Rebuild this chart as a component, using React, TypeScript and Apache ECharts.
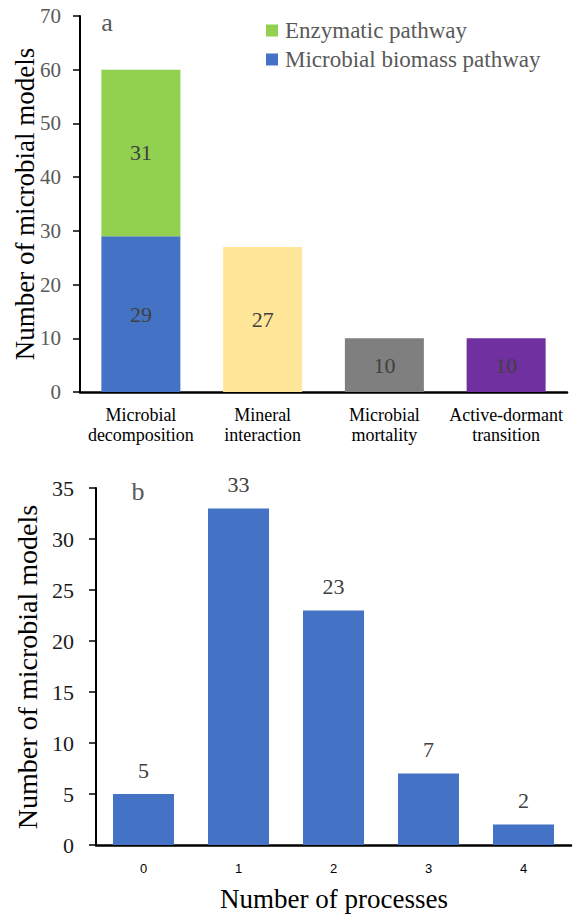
import React, { useEffect, useRef } from "react";
import * as echarts from "echarts";

const panelACategories = [
  "Microbial\ndecomposition",
  "Mineral\ninteraction",
  "Microbial\nmortality",
  "Active-dormant\ntransition",
];
const microbialBiomass = [29, null, null, null];
const enzymatic = [31, null, null, null];
const otherProcesses = [null, 27, 10, 10];
const otherColors = ["#4472C4", "#FFE699", "#7F7F7F", "#7030A0"];
const panelAYTicks = { min: 0, max: 70, interval: 10 };

const panelBCategories = ["0", "1", "2", "3", "4"];
const panelBCounts = [5, 33, 23, 7, 2];
const panelBYTicks = { min: 0, max: 35, interval: 5 };

const SERIF = "Liberation Serif";

export default function App() {
  const ref = useRef<HTMLDivElement>(null);
  useEffect(() => {
    if (!ref.current) return;
    const chart = echarts.init(ref.current, undefined, { renderer: "svg" });
    const labelStyle = {
      color: "#404040",
      fontSize: 22,
      fontFamily: SERIF,
    };
    chart.setOption({
      animation: false,
      backgroundColor: "#ffffff",
      textStyle: { fontFamily: SERIF },
      legend: {
        data: ["Enzymatic pathway", "Microbial biomass pathway"],
        orient: "vertical",
        left: 261,
        top: 14,
        itemWidth: 12,
        itemHeight: 12,
        itemGap: 6,
        icon: "rect",
        textStyle: {
          color: "#595959",
          fontSize: 23,
          fontFamily: SERIF,
          padding: [0, 0, 0, 2],
        },
      },
      grid: [
        { left: 80, top: 16, width: 487, height: 376 },
        { left: 96, top: 488, width: 475, height: 357 },
      ],
      xAxis: [
        {
          type: "category",
          gridIndex: 0,
          data: panelACategories,
          axisLine: { lineStyle: { color: "#000", width: 2.5 } },
          axisTick: { show: false },
          axisLabel: {
            color: "#000",
            fontSize: 18,
            lineHeight: 20,
            margin: 13,
            fontFamily: SERIF,
            interval: 0,
          },
        },
        {
          type: "category",
          gridIndex: 1,
          data: panelBCategories,
          axisLine: { lineStyle: { color: "#000", width: 2.5 } },
          axisTick: { show: false },
          axisLabel: {
            color: "#000",
            fontSize: 13,
            margin: 17,
            fontFamily: "Liberation Sans",
          },
        },
      ],
      yAxis: [
        {
          type: "value",
          gridIndex: 0,
          ...panelAYTicks,
          splitLine: { show: false },
          axisLine: { show: true, lineStyle: { color: "#000", width: 2 } },
          axisTick: { show: true, length: 7, lineStyle: { color: "#000", width: 1.5 } },
          axisLabel: { color: "#595959", fontSize: 21, margin: 19, fontFamily: SERIF },
        },
        {
          type: "value",
          gridIndex: 1,
          ...panelBYTicks,
          splitLine: { show: false },
          axisLine: { show: true, lineStyle: { color: "#000", width: 2 } },
          axisTick: { show: true, length: 7, lineStyle: { color: "#000", width: 1.5 } },
          axisLabel: { color: "#1a1a1a", fontSize: 22, margin: 22, fontFamily: SERIF },
        },
      ],
      series: [
        {
          name: "Microbial biomass pathway",
          type: "bar",
          stack: "a",
          xAxisIndex: 0,
          yAxisIndex: 0,
          barWidth: 79,
          data: microbialBiomass,
          itemStyle: { color: "#4472C4" },
          label: { show: true, position: "inside", ...labelStyle },
        },
        {
          name: "Enzymatic pathway",
          type: "bar",
          stack: "a",
          xAxisIndex: 0,
          yAxisIndex: 0,
          barWidth: 79,
          data: enzymatic,
          itemStyle: { color: "#92D050" },
          label: { show: true, position: "inside", ...labelStyle },
        },
        {
          name: "Other processes",
          type: "bar",
          stack: "a",
          xAxisIndex: 0,
          yAxisIndex: 0,
          barWidth: 79,
          data: otherProcesses.map((v, i) => ({
            value: v,
            itemStyle: { color: otherColors[i] },
          })),
          label: { show: true, position: "inside", ...labelStyle },
        },
        {
          name: "Number of models",
          type: "bar",
          xAxisIndex: 1,
          yAxisIndex: 1,
          barWidth: 61,
          data: panelBCounts,
          itemStyle: { color: "#4472C4" },
          label: { show: true, position: "top", distance: 13, ...labelStyle },
        },
      ],
      graphic: [
        {
          type: "text",
          x: 25,
          y: 204,
          rotation: Math.PI / 2,
          style: {
            text: "Number of microbial models",
            fill: "#000",
            fontSize: 27,
            fontFamily: SERIF,
            textAlign: "center",
            textVerticalAlign: "middle",
          },
        },
        {
          type: "text",
          x: 27,
          y: 667,
          rotation: Math.PI / 2,
          style: {
            text: "Number of microbial models",
            fill: "#000",
            fontSize: 28,
            fontFamily: SERIF,
            textAlign: "center",
            textVerticalAlign: "middle",
          },
        },
        {
          type: "text",
          x: 334,
          y: 899,
          style: {
            text: "Number of processes",
            fill: "#000",
            fontSize: 27,
            fontFamily: SERIF,
            textAlign: "center",
            textVerticalAlign: "middle",
          },
        },
        {
          type: "text",
          x: 107,
          y: 22,
          style: {
            text: "a",
            fill: "#595959",
            fontSize: 26,
            fontFamily: SERIF,
            textAlign: "center",
            textVerticalAlign: "middle",
          },
        },
        {
          type: "text",
          x: 138,
          y: 491,
          style: {
            text: "b",
            fill: "#595959",
            fontSize: 26,
            fontFamily: SERIF,
            textAlign: "center",
            textVerticalAlign: "middle",
          },
        },
      ],
    });
    return () => chart.dispose();
  }, []);
  return (
    <div
      ref={ref}
      style={{ position: "absolute", left: 0, top: 0, width: 574, height: 916 }}
    />
  );
}
